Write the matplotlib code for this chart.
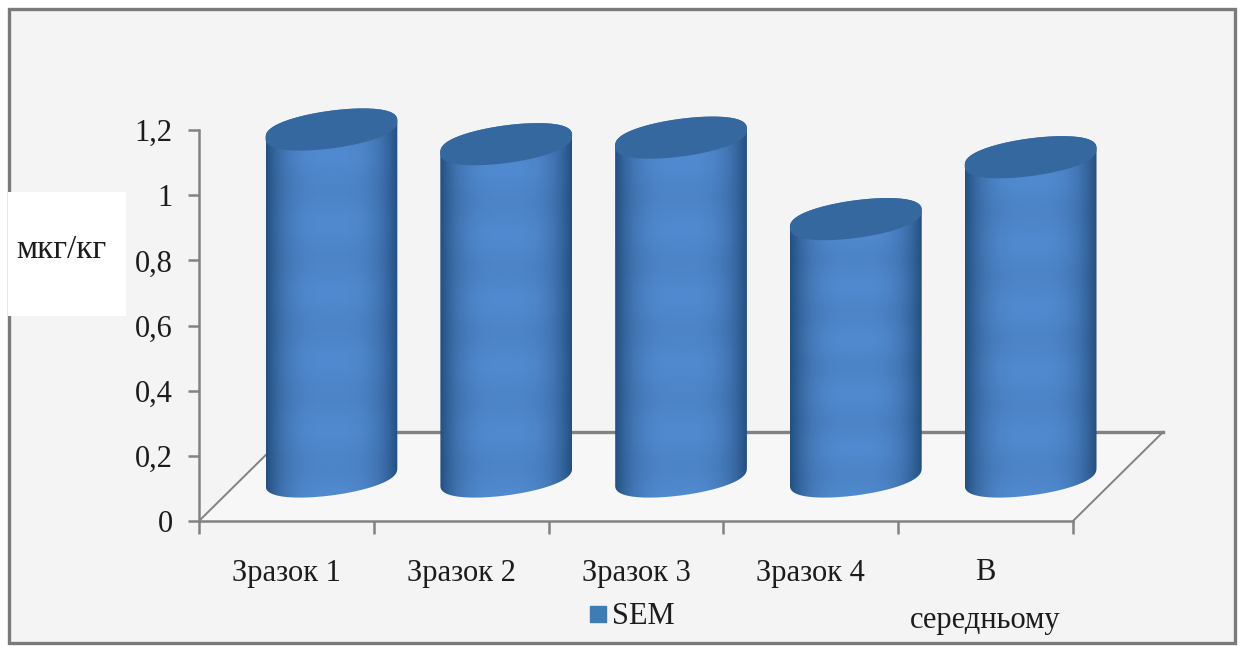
import numpy as np
import matplotlib
matplotlib.use("Agg")
import matplotlib.pyplot as plt
from matplotlib.lines import Line2D
from matplotlib.patches import PathPatch, Polygon, Rectangle
from matplotlib.path import Path

categories = ["Зразок 1", "Зразок 2", "Зразок 3", "Зразок 4", "В\nсередньому"]
values = [1.065, 1.02, 1.04, 0.79, 0.98]
y_ticks = [0, 0.2, 0.4, 0.6, 0.8, 1.0, 1.2]
y_tick_labels = ["0", "0,2", "0,4", "0,6", "0,8", "1", "1,2"]
unit_label = "мкг/кг"
series_name = "SEM"

W, H = 1242, 646
BG = "#f4f4f4"
GREY = "#828282"
TOP_COLOR = "#35689f"
LEGEND_COLOR = "#3f7cb4"

# floor depth, in category and value units
DEPTH_X = 0.515
DEPTH_Y = 0.273
RADIUS_X = 0.377
RADIUS_Y = 0.058
TILT = 0.026

# room above and to the right of the axis lines for the 3D parts
X_MAX = 5.7
Y_MAX = 1.5

plt.rcParams["font.family"] = ["Liberation Serif", "DejaVu Serif"]
plt.rcParams["font.size"] = 22

fig = plt.figure(figsize=(W / 100, H / 100), dpi=100, facecolor="white")


def px_rect(x0, y0, x1, y1, **kw):
    # rectangle on the figure given in pixels from the top left
    fig.add_artist(Rectangle((x0 / W, 1 - y1 / H), (x1 - x0) / W, (y1 - y0) / H,
                             transform=fig.transFigure, **kw))


px_rect(9, 9, 1235, 643, facecolor=BG, edgecolor="#7a7a7a", linewidth=2.4, zorder=-2)
px_rect(8, 192, 126, 316, facecolor="white", edgecolor="none", zorder=-1)

n = len(categories)
px_x = 874 / n
px_y = 391 / 1.2
ax_w = px_x * X_MAX
ax_h = px_y * Y_MAX
ax = fig.add_axes([199 / W, 1 - 521 / H, ax_w / W, ax_h / H])
ax.patch.set_alpha(0)

# floor of the 3D box
floor = [(0, 0), (n, 0), (n + DEPTH_X, DEPTH_Y), (DEPTH_X, DEPTH_Y)]
ax.add_patch(Polygon(floor, closed=True, facecolor="#f7f7f7", edgecolor="none", zorder=1))
ax.plot([0, DEPTH_X], [0, DEPTH_Y], color=GREY, lw=1.4, zorder=1.5)
ax.plot([n, n + DEPTH_X], [0, DEPTH_Y], color=GREY, lw=1.4, zorder=1.5)
ax.plot([DEPTH_X, n + DEPTH_X], [DEPTH_Y, DEPTH_Y], color=GREY, lw=2.4, zorder=1.5)

# body shading: dark edges, light middle, soft horizontal bands
u = np.linspace(-1, 1, 200)
across = 1 - np.abs(u) ** 3.2
v = np.linspace(0, 1, 300)
bands = 0.045 * np.round(np.sin(v * 2 * np.pi * 6.2) * 3) / 3
dark = np.array([0.14, 0.31, 0.50])
light = np.array([0.31, 0.53, 0.80])
shade = np.zeros((len(v), len(u), 3))
for c in range(3):
    shade[:, :, c] = dark[c] + (light[c] - dark[c]) * across[None, :] * (1 + bands[:, None])
shade = np.clip(shade, 0, 1)

t = np.linspace(0, np.pi, 120)
for i, val in enumerate(values):
    cx = i + 0.5 + DEPTH_X / 2
    base = DEPTH_Y / 2
    top = base + val

    ex = RADIUS_X * np.cos(t)
    tilt = TILT * np.cos(t)
    # slightly blunt ends on the ellipses
    arc = RADIUS_Y * np.sin(t) ** 0.8
    upper = arc + tilt
    lower = -arc + tilt

    # outline: upper arc of the top edge, then lower arc of the base
    body_xy = np.column_stack([
        np.r_[cx + ex, cx + ex[::-1]],
        np.r_[top + upper, base + lower[::-1]],
    ])
    clip = PathPatch(Path(np.vstack([body_xy, body_xy[:1]])), transform=ax.transData,
                     facecolor="none", edgecolor="none")
    ax.add_patch(clip)
    im = ax.imshow(shade, extent=[cx - RADIUS_X, cx + RADIUS_X, base - 0.12, top + 0.12],
                   origin="lower", aspect="auto", zorder=2 + i * 0.1, interpolation="bilinear")
    im.set_clip_path(clip)

    cap_xy = np.column_stack([np.r_[cx + ex, cx + ex[::-1]], np.r_[top + upper, top + lower[::-1]]])
    ax.add_patch(Polygon(cap_xy, closed=True, facecolor=TOP_COLOR, edgecolor="none",
                         zorder=2.05 + i * 0.1))

ax.set_xlim(0, X_MAX)
ax.set_ylim(0, Y_MAX)

for side in ["top", "right"]:
    ax.spines[side].set_visible(False)
ax.spines["left"].set_bounds(0, 1.2)
ax.spines["bottom"].set_bounds(0, n)
for side in ["left", "bottom"]:
    ax.spines[side].set_color(GREY)
    ax.spines[side].set_linewidth(1.8)

ax.set_yticks(y_ticks)
ax.set_yticklabels(y_tick_labels)
ax.set_xticks(range(n + 1))
ax.set_xticklabels([])
ax.set_xticks(np.arange(n) + 0.5, minor=True)
ax.set_xticklabels(categories, minor=True, linespacing=1.85, va="top")
ax.tick_params(axis="y", length=8, width=1.8, color=GREY, pad=11, labelcolor="#1c1c1c")
ax.tick_params(axis="x", which="major", length=9, width=1.8, color=GREY)
ax.tick_params(axis="x", which="minor", length=0, pad=27, labelcolor="#1c1c1c")

fig.text(61 / W, 1 - 250 / H, unit_label, ha="center", va="center", fontsize=24, color="#1c1c1c")

handle = Line2D([], [], marker="s", linestyle="none", color=LEGEND_COLOR, markersize=11)
ax.legend([handle], [series_name], loc="center",
          bbox_to_anchor=((631 - 199) / ax_w, (521 - 617) / ax_h), frameon=False,
          handlelength=0.7, handletextpad=0.1, borderpad=0, labelcolor="#1c1c1c", fontsize=22)

fig.savefig("out.png", dpi=100, facecolor=fig.get_facecolor())
